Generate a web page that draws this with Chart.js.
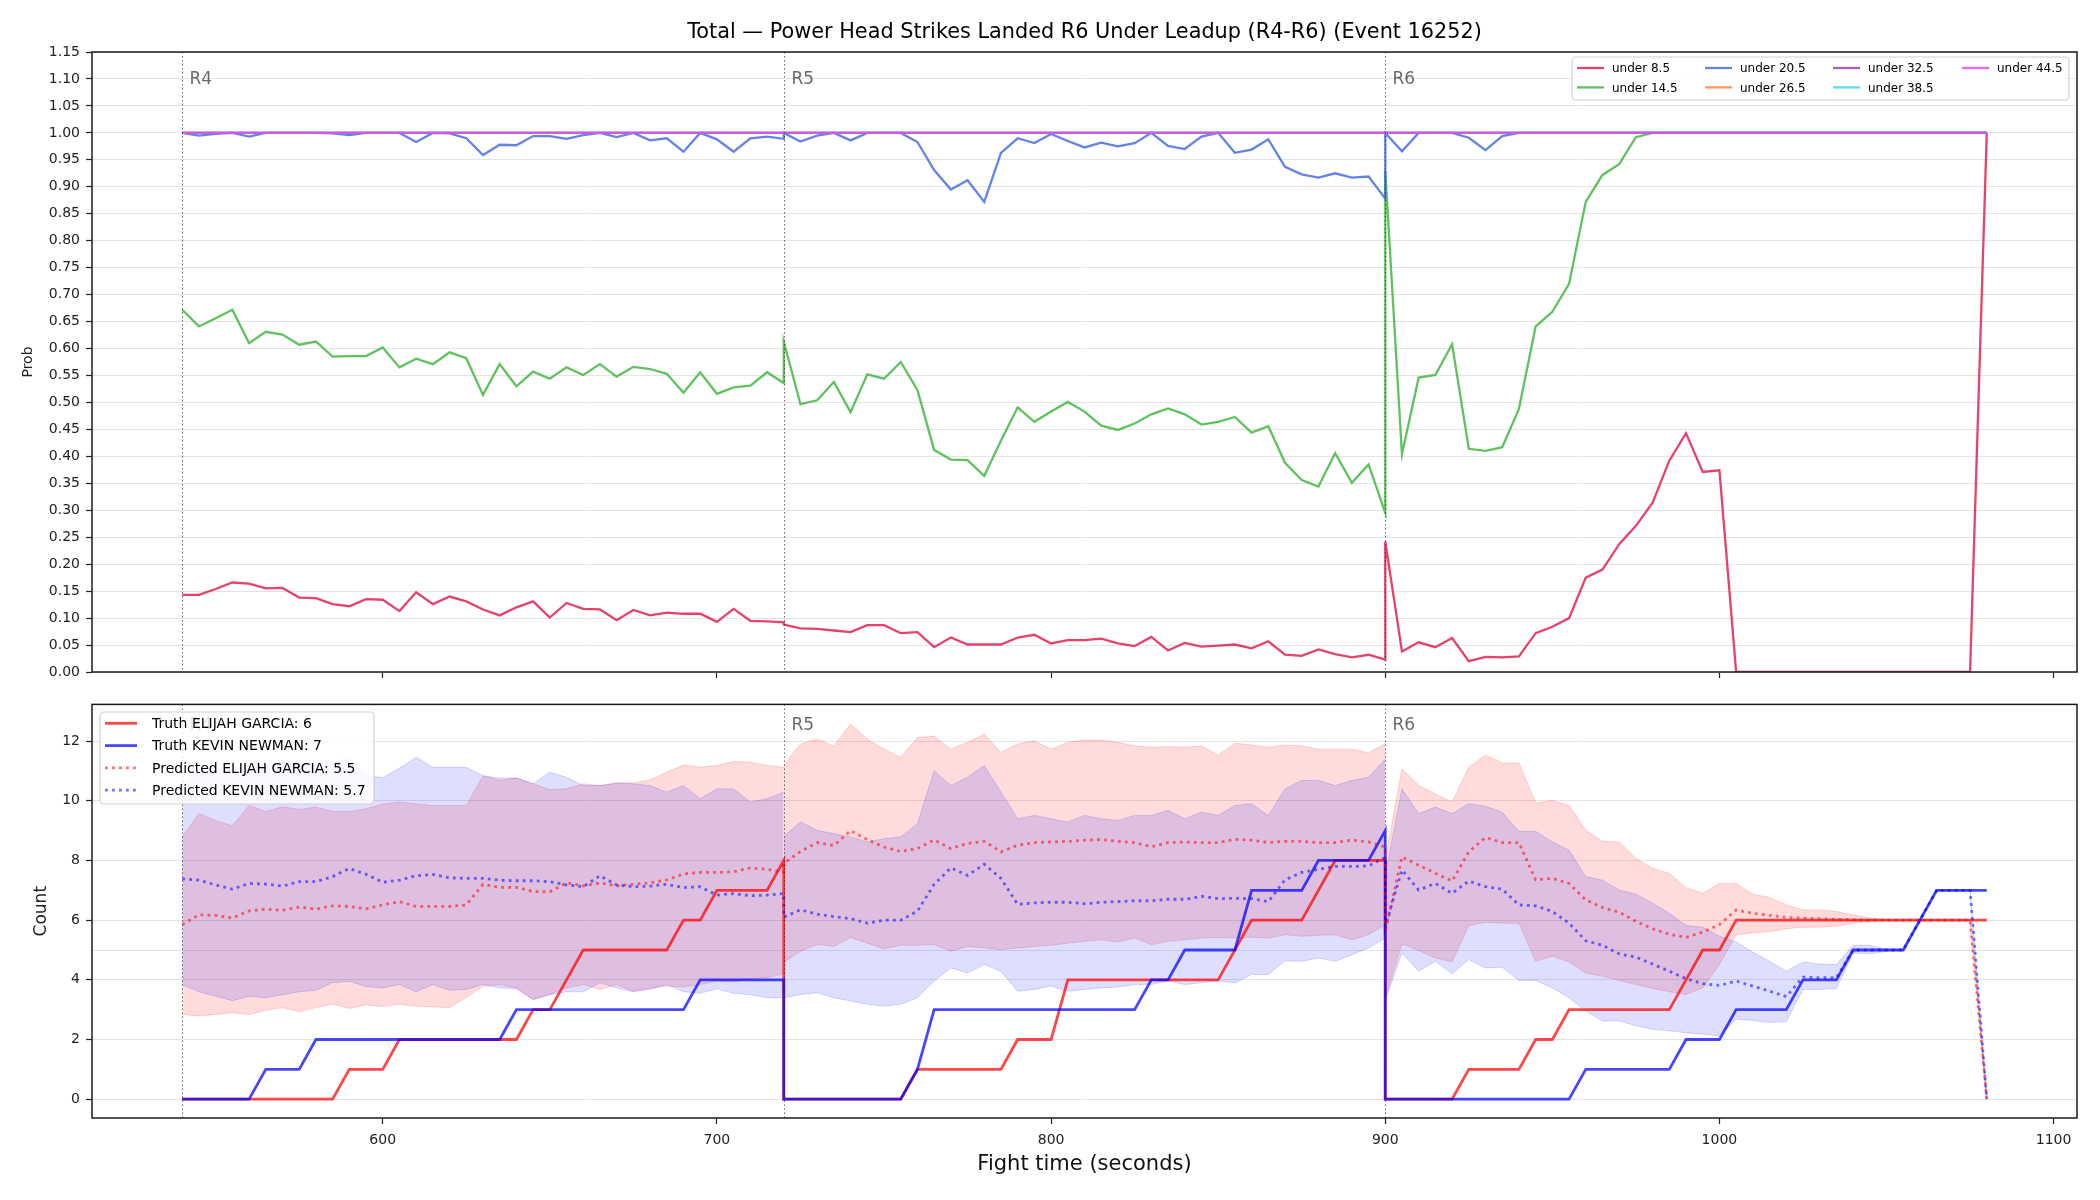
<!DOCTYPE html>
<html>
<head>
<meta charset="utf-8">
<script src="https://cdn.jsdelivr.net/npm/chart.js@4.4.1/dist/chart.umd.min.js"></script>
<style>
  html, body { margin: 0; padding: 0; background: #fff; }
  #wrap { position: relative; width: 2100px; height: 1200px; }
  canvas { position: absolute; left: 0; }
  #topChart { top: 0; }
  #bottomChart { top: 690px; }
</style>
</head>
<body>
<div id="wrap">
  <canvas id="topChart" width="2100" height="690"></canvas>
  <canvas id="bottomChart" width="2100" height="510"></canvas>
</div>
<script>
const TITLE = "Total — Power Head Strikes Landed R6 Under Leadup (R4-R6) (Event 16252)";

// fight time, one block per round (round edges appear twice)
const times = [
  540,545,550,555,560,565,570,575,580,585,590,595,600,605,610,615,620,625,630,635,640,645,650,655,660,665,670,675,680,685,690,695,700,705,710,715,720,
  720,725,730,735,740,745,750,755,760,765,770,775,780,785,790,795,800,805,810,815,820,825,830,835,840,845,850,855,860,865,870,875,880,885,890,895,900,
  900,905,910,915,920,925,930,935,940,945,950,955,960,965,970,975,980,985,990,995,1000,1005,1010,1015,1020,1025,1030,1035,1040,1045,1050,1055,1060,1065,1070,1075,1080
];
const roundNames = ["R4", "R5", "R6"];
const roundStarts = [540, 720, 900];
const xTicks = [600, 700, 800, 900, 1000, 1100];
const probTicks = [0,0.05,0.1,0.15,0.2,0.25,0.3,0.35,0.4,0.45,0.5,0.55,0.6,0.65,0.7,0.75,0.8,0.85,0.9,0.95,1,1.05,1.1,1.15];
const countTicks = [0, 2, 4, 6, 8, 10, 12];
const countRefLine = 5;

// top panel: probability of each "under" line
const lineNames = ["under 8.5", "under 14.5", "under 20.5", "under 26.5", "under 32.5", "under 38.5", "under 44.5"];
const under8_5 = [
  0.143,0.143,0.154,0.166,0.164,0.155,0.156,0.138,0.137,0.126,0.122,0.135,0.134,0.113,0.148,0.126,0.140,0.131,0.116,0.105,0.120,0.131,0.101,0.128,0.117,0.116,0.096,0.115,0.105,0.110,0.108,0.108,0.093,0.117,0.095,0.094,0.092,
  0.088,0.081,0.080,0.077,0.074,0.087,0.087,0.072,0.074,0.046,0.064,0.051,0.051,0.051,0.064,0.069,0.053,0.059,0.059,0.062,0.053,0.048,0.065,0.040,0.054,0.047,0.049,0.051,0.044,0.057,0.032,0.030,0.042,0.033,0.027,0.032,0.023,
  0.242,0.038,0.055,0.046,0.063,0.020,0.028,0.027,0.029,0.072,0.084,0.100,0.175,0.190,0.237,0.271,0.314,0.392,0.443,0.371,0.374,0,0,0,0,0,0,0,0,0,0,0,0,0,0,0,1
];
const under14_5 = [
  0.672,0.641,0.656,0.672,0.610,0.631,0.626,0.607,0.613,0.585,0.586,0.586,0.602,0.565,0.581,0.571,0.593,0.582,0.514,0.571,0.530,0.557,0.544,0.565,0.551,0.571,0.548,0.566,0.562,0.553,0.518,0.556,0.516,0.528,0.531,0.556,0.536,
  0.613,0.497,0.504,0.538,0.482,0.552,0.544,0.575,0.523,0.412,0.394,0.393,0.364,0.429,0.491,0.464,0.483,0.501,0.483,0.457,0.449,0.461,0.478,0.489,0.478,0.459,0.464,0.473,0.444,0.456,0.388,0.356,0.344,0.406,0.351,0.385,0.295,
  0.930,0.404,0.546,0.551,0.608,0.414,0.410,0.417,0.488,0.641,0.668,0.720,0.872,0.922,0.942,0.992,1,1,1,1,1,1,1,1,1,1,1,1,1,1,1,1,1,1,1,1,1
];
const under20_5 = [
  1,0.995,0.998,1,0.993,1,1,1,1,0.999,0.996,1,1,1,0.983,1,0.999,0.990,0.959,0.978,0.977,0.994,0.994,0.989,0.996,1,0.992,1,0.986,0.990,0.965,1,0.988,0.965,0.990,0.993,0.989,
  1,0.984,0.995,1,0.986,1,1,1,0.983,0.931,0.895,0.912,0.872,0.963,0.990,0.981,0.998,0.985,0.973,0.982,0.975,0.981,1,0.976,0.970,0.993,1,0.963,0.969,0.988,0.937,0.923,0.917,0.925,0.917,0.919,0.878,
  1,0.966,1,1,1,0.991,0.968,0.994,1,1,1,1,1,1,1,1,1,1,1,1,1,1,1,1,1,1,1,1,1,1,1,1,1,1,1,1,1
];
const under26_5 = [
  1,1,1,1,1,1,1,1,1,1,1,1,1,1,1,1,1,1,1,1,1,1,1,1,1,1,1,1,1,1,1,1,1,1,1,1,1,
  1,1,1,1,1,1,1,1,1,1,1,1,1,1,1,1,1,1,1,1,1,1,1,1,1,1,1,1,1,1,1,1,1,1,1,1,1,
  1,1,1,1,1,1,1,1,1,1,1,1,1,1,1,1,1,1,1,1,1,1,1,1,1,1,1,1,1,1,1,1,1,1,1,1,1
];
const under32_5 = [
  1,1,1,1,1,1,1,1,1,1,1,1,1,1,1,1,1,1,1,1,1,1,1,1,1,1,1,1,1,1,1,1,1,1,1,1,1,
  1,1,1,1,1,1,1,1,1,1,1,1,1,1,1,1,1,1,1,1,1,1,1,1,1,1,1,1,1,1,1,1,1,1,1,1,1,
  1,1,1,1,1,1,1,1,1,1,1,1,1,1,1,1,1,1,1,1,1,1,1,1,1,1,1,1,1,1,1,1,1,1,1,1,1
];
const under38_5 = [
  1,1,1,1,1,1,1,1,1,1,1,1,1,1,1,1,1,1,1,1,1,1,1,1,1,1,1,1,1,1,1,1,1,1,1,1,1,
  1,1,1,1,1,1,1,1,1,1,1,1,1,1,1,1,1,1,1,1,1,1,1,1,1,1,1,1,1,1,1,1,1,1,1,1,1,
  1,1,1,1,1,1,1,1,1,1,1,1,1,1,1,1,1,1,1,1,1,1,1,1,1,1,1,1,1,1,1,1,1,1,1,1,1
];
const under44_5 = [
  1,1,1,1,1,1,1,1,1,1,1,1,1,1,1,1,1,1,1,1,1,1,1,1,1,1,1,1,1,1,1,1,1,1,1,1,1,
  1,1,1,1,1,1,1,1,1,1,1,1,1,1,1,1,1,1,1,1,1,1,1,1,1,1,1,1,1,1,1,1,1,1,1,1,1,
  1,1,1,1,1,1,1,1,1,1,1,1,1,1,1,1,1,1,1,1,1,1,1,1,1,1,1,1,1,1,1,1,1,1,1,1,1
];
const lineColors = [
  "rgba(225,25,75,0.82)", "rgba(60,180,60,0.82)", "rgba(65,105,225,0.82)", "rgba(255,127,60,0.82)",
  "rgba(145,60,200,0.82)", "rgba(60,210,240,0.82)", "rgba(230,70,230,0.82)"
];

// bottom panel: cumulative counts
const fighterNames = ["ELIJAH GARCIA", "KEVIN NEWMAN"];
const truthTotals = [6, 7];
const predTotals = [5.5, 5.7];
const truthElijah = [
  0,0,0,0,0,0,0,0,0,0,1,1,1,2,2,2,2,2,2,2,2,3,3,4,5,5,5,5,5,5,6,6,7,7,7,7,8,
  0,0,0,0,0,0,0,0,1,1,1,1,1,1,2,2,2,4,4,4,4,4,4,4,4,4,4,5,6,6,6,6,7,8,8,8,8,
  0,0,0,0,0,1,1,1,1,2,2,3,3,3,3,3,3,3,4,5,5,6,6,6,6,6,6,6,6,6,6,6,6,6,6,6,6
];
const truthKevin = [
  0,0,0,0,0,1,1,1,2,2,2,2,2,2,2,2,2,2,2,2,3,3,3,3,3,3,3,3,3,3,3,4,4,4,4,4,4,
  0,0,0,0,0,0,0,0,1,3,3,3,3,3,3,3,3,3,3,3,3,3,4,4,5,5,5,5,7,7,7,7,8,8,8,8,9,
  0,0,0,0,0,0,0,0,0,0,0,0,1,1,1,1,1,1,2,2,2,3,3,3,3,4,4,4,5,5,5,5,6,7,7,7,7
];
const predElijah = [
  5.85,6.18,6.16,6.07,6.31,6.37,6.33,6.44,6.37,6.48,6.46,6.38,6.51,6.62,6.46,6.46,6.46,6.51,7.2,7.1,7.1,6.96,6.95,7.25,7.15,7.25,7.15,7.2,7.25,7.35,7.55,7.6,7.6,7.62,7.75,7.7,7.6,
  7.9,8.3,8.6,8.5,9.0,8.7,8.45,8.3,8.4,8.69,8.4,8.57,8.64,8.29,8.51,8.6,8.62,8.64,8.68,8.7,8.64,8.6,8.46,8.6,8.62,8.6,8.6,8.71,8.68,8.6,8.64,8.64,8.6,8.6,8.68,8.62,8.45,
  5.6,8.12,7.84,7.57,7.31,8.29,8.77,8.6,8.6,7.35,7.4,7.23,6.68,6.42,6.27,5.96,5.71,5.53,5.42,5.6,5.85,6.34,6.23,6.16,6.09,6.07,6.05,6.03,6.02,6.0,6.0,6.0,6.0,6.0,6.0,6.0,0
];
const predKevin = [
  7.38,7.34,7.18,7.04,7.23,7.21,7.14,7.29,7.29,7.46,7.73,7.54,7.27,7.34,7.49,7.53,7.42,7.4,7.4,7.34,7.32,7.32,7.29,7.18,7.12,7.49,7.18,7.12,7.14,7.2,7.09,7.12,6.84,6.89,6.82,6.84,6.89,
  6.1,6.35,6.2,6.12,6.05,5.9,6.0,6.0,6.3,7.2,7.75,7.5,7.87,7.4,6.53,6.58,6.6,6.6,6.55,6.6,6.62,6.65,6.65,6.7,6.7,6.8,6.72,6.73,6.72,6.62,7.35,7.6,7.7,7.8,7.8,7.82,8.1,
  5.8,7.68,7.01,7.23,6.9,7.31,7.12,7.04,6.51,6.48,6.29,5.9,5.31,5.16,4.87,4.76,4.53,4.29,4.04,3.87,3.81,3.96,3.79,3.62,3.44,4.09,4.07,4.07,5.0,5.0,5.0,5.0,6.0,7.0,7.0,7.0,0
];
const elijahHi = [
  8.79,9.57,9.34,9.16,9.84,9.64,9.8,9.71,9.79,9.64,9.64,9.73,9.89,9.96,9.9,9.84,9.84,9.84,10.84,10.68,10.77,10.57,10.37,10.4,10.57,10.5,10.6,10.6,10.7,10.96,11.2,11.12,11.18,11.32,11.29,11.18,11.12,
  11.2,11.9,12.07,11.84,12.57,12.07,11.73,11.46,12.12,12.16,11.73,11.96,12.23,11.62,11.9,12.01,11.73,11.96,12.04,12.03,11.96,11.84,11.79,11.82,11.79,11.84,11.53,11.93,11.87,11.79,11.87,11.84,11.73,11.73,11.73,11.6,11.93,
  8.0,11.07,10.51,10.23,9.96,11.12,11.53,11.27,11.27,9.93,10.01,9.84,9.01,8.64,8.62,8.07,7.73,7.57,7.09,6.9,7.23,7.23,6.87,6.76,6.51,6.34,6.34,6.29,6.18,6.07,6.01,6.0,6.0,6.0,6.0,6.0,0
];
const elijahLo = [
  2.84,2.79,2.84,2.9,2.84,2.98,3.07,2.93,3.07,3.18,3.04,3.16,3.11,3.18,3.12,3.09,3.07,3.4,3.79,3.84,3.73,3.34,3.51,3.73,3.84,3.68,3.84,3.62,3.73,3.79,3.76,3.84,3.96,3.93,4.04,4.07,4.2,
  4.57,4.96,5.18,5.12,5.42,5.23,5.04,5.16,5.16,5.18,4.96,5.12,5.07,5.01,5.07,5.12,5.16,5.23,5.29,5.34,5.27,5.4,5.18,5.29,5.34,5.4,5.42,5.4,5.43,5.4,5.51,5.46,5.49,5.51,5.34,5.51,5.84,
  3.4,5.2,4.98,4.73,4.6,5.82,5.93,5.9,5.9,4.62,4.79,4.6,4.23,4.12,3.98,3.84,3.71,3.6,3.51,3.73,4.51,5.51,5.57,5.62,5.71,5.76,5.76,5.8,5.9,5.96,6.0,6.0,6.0,6.0,6.0,6.0,0
];
const kevinHi = [
  10.6,11.0,11.1,11.0,11.23,11.2,11.29,11.34,11.23,11.23,11.46,10.84,10.78,11.09,11.46,11.12,11.12,11.12,10.84,10.76,10.76,10.57,10.96,10.79,10.51,10.51,10.6,10.57,10.51,10.29,10.51,10.07,10.4,10.4,9.96,10.07,10.29,
  8.8,9.29,9.01,8.9,8.79,8.62,8.73,8.79,9.23,11.01,10.51,10.79,11.18,10.29,9.4,9.51,9.4,9.29,9.51,9.4,9.34,9.51,9.51,9.68,9.4,9.62,9.51,9.84,9.9,9.51,10.4,10.68,10.68,10.51,10.68,10.79,11.4,
  7.5,10.4,9.57,9.79,9.57,9.9,9.82,9.62,8.98,8.98,8.62,8.34,7.46,7.34,7.01,6.87,6.57,6.23,5.82,5.76,5.46,5.27,4.93,4.62,4.29,4.6,4.53,4.51,5.16,5.16,5.01,5.0,6.0,7.0,7.0,7.0,0
];
const kevinLo = [
  3.84,3.6,3.45,3.3,3.45,3.4,3.5,3.6,3.65,3.9,3.95,3.78,3.73,3.84,3.6,3.84,3.65,3.68,3.84,3.73,3.7,3.34,3.5,3.6,3.6,3.9,3.73,3.6,3.68,3.84,3.6,3.55,3.7,3.55,3.5,3.4,3.4,
  3.4,3.51,3.57,3.4,3.29,3.18,3.12,3.18,3.4,3.96,4.4,4.23,4.51,4.29,3.62,3.68,3.79,3.62,3.68,3.73,3.76,3.84,3.84,3.96,3.84,3.9,3.96,3.9,4.18,4.18,4.64,4.62,4.73,4.62,4.84,5.07,5.4,
  3.3,4.9,4.29,4.62,4.2,4.68,4.4,4.42,3.98,3.98,3.73,3.4,2.96,2.62,2.62,2.46,2.34,2.29,2.23,2.18,2.12,2.68,2.64,2.57,2.6,3.68,3.68,3.71,4.9,4.87,4.96,5.0,6.0,7.0,7.0,7.0,0
];

Chart.defaults.font.family = "'DejaVu Sans', 'Liberation Sans', sans-serif";
Chart.defaults.color = "#222";

const pts = ys => times.map((t, i) => ({ x: t, y: ys[i] }));
const roundSlices = [[0, 37], [37, 74], [74, 111]];
const fixTicks = list => axis => { axis.ticks = list.map(v => ({ value: v })); };

// title centred over the axes
const titlePlugin = {
  id: "axTitle",
  afterDraw(chart, args, opts) {
    const { ctx, chartArea: a } = chart;
    ctx.save();
    ctx.font = "20.8px 'DejaVu Sans'";
    ctx.fillStyle = "#000";
    ctx.textAlign = "center";
    ctx.textBaseline = "middle";
    ctx.fillText(opts.text, (a.left + a.right) / 2, opts.y);
    ctx.restore();
  }
};

// dotted round markers with R labels, plus the axes frame
const roundPlugin = {
  id: "rounds",
  afterDatasetsDraw(chart, args, opts) {
    const { ctx, chartArea: a, scales: { x } } = chart;
    ctx.save();
    roundStarts.forEach((t, i) => {
      const px = Math.round(x.getPixelForValue(t)) + 0.5;
      ctx.strokeStyle = "rgba(40,40,40,0.7)";
      ctx.lineWidth = 1;
      ctx.setLineDash([1.5, 2.5]);
      ctx.beginPath();
      ctx.moveTo(px, a.top);
      ctx.lineTo(px, a.bottom);
      ctx.stroke();
      ctx.setLineDash([]);
      ctx.fillStyle = "rgba(0,0,0,0.6)";
      ctx.font = "17px 'DejaVu Sans'";
      ctx.textBaseline = "alphabetic";
      ctx.textAlign = "left";
      ctx.fillText(roundNames[i], px + 7, a.top + opts.labelDy);
    });
    ctx.strokeStyle = "#1a1a1a";
    ctx.lineWidth = 1.5;
    ctx.strokeRect(a.left, a.top, a.right - a.left, a.bottom - a.top);
    ctx.restore();
  }
};

// matplotlib-like boxed legend
const boxLegend = {
  id: "boxLegend",
  afterDraw(chart, args, opts) {
    const { ctx } = chart;
    const b = opts.box;
    ctx.save();
    ctx.beginPath();
    const r = 4;
    ctx.moveTo(b.x + r, b.y);
    ctx.arcTo(b.x + b.w, b.y, b.x + b.w, b.y + b.h, r);
    ctx.arcTo(b.x + b.w, b.y + b.h, b.x, b.y + b.h, r);
    ctx.arcTo(b.x, b.y + b.h, b.x, b.y, r);
    ctx.arcTo(b.x, b.y, b.x + b.w, b.y, r);
    ctx.closePath();
    ctx.fillStyle = "rgba(255,255,255,0.8)";
    ctx.fill();
    ctx.strokeStyle = "#d0d0d0";
    ctx.lineWidth = 1.2;
    ctx.stroke();
    ctx.font = opts.font;
    ctx.textBaseline = "middle";
    ctx.textAlign = "left";
    opts.items.forEach(it => {
      const x0 = b.x + opts.colX[it.col];
      const y0 = b.y + opts.rowY0 + it.row * opts.rowH;
      ctx.strokeStyle = it.color;
      ctx.lineWidth = it.width;
      ctx.setLineDash(it.dash || []);
      ctx.beginPath();
      ctx.moveTo(x0, y0);
      ctx.lineTo(x0 + opts.handle, y0);
      ctx.stroke();
      ctx.setLineDash([]);
      ctx.fillStyle = "#000";
      ctx.fillText(it.label, x0 + opts.textGap, y0 + 1);
    });
    ctx.restore();
  }
};

const probSeries = [under8_5, under14_5, under20_5, under26_5, under32_5, under38_5, under44_5];

new Chart(document.getElementById("topChart"), {
  type: "line",
  data: {
    datasets: probSeries.map((ys, i) => ({
      label: lineNames[i],
      data: pts(ys),
      borderColor: lineColors[i],
      borderWidth: 2.3,
      pointRadius: 0,
      tension: 0,
      fill: false,
      order: probSeries.length - i
    }))
  },
  options: {
    responsive: false,
    animation: false,
    devicePixelRatio: 1,
    layout: { padding: { left: 0, right: 23, top: 52, bottom: 0 } },
    plugins: {
      legend: { display: false },
      tooltip: { enabled: false },
      title: { display: false },
      axTitle: { text: TITLE, y: 33 },
      rounds: { labelDy: 32 },
      boxLegend: {
        box: { x: 1572, y: 57, w: 497, h: 43 },
        font: "12px 'DejaVu Sans'",
        colX: [5, 133, 261, 390], rowY0: 11, rowH: 19.4,
        handle: 27, textGap: 35,
        items: lineNames.map((n, i) => ({
          label: n, color: lineColors[i], width: 2.3, col: Math.floor(i / 2), row: i % 2
        }))
      }
    },
    scales: {
      x: {
        type: "linear", min: 513, max: 1107,
        afterBuildTicks: fixTicks(xTicks),
        afterFit: ax => { ax.height = 18; },
        ticks: { display: false },
        grid: { drawOnChartArea: false, tickLength: 6, tickColor: "#222", tickWidth: 1.2 },
        border: { display: false }
      },
      y: {
        type: "linear", min: 0, max: 1.15,
        afterBuildTicks: fixTicks(probTicks),
        afterFit: ax => { ax.width = 92; },
        ticks: { callback: v => v.toFixed(2), font: { size: 14 }, color: "#222", padding: 6 },
        grid: { color: "#e4e4e4", lineWidth: 1, tickLength: 6, tickColor: "#222", tickWidth: 1.2 },
        border: { display: false },
        title: { display: true, text: "Prob", font: { size: 14 }, color: "#222", padding: { top: 20 } }
      }
    }
  },
  plugins: [roundPlugin, boxLegend, titlePlugin]
});

// bottom panel datasets
const bandDefs = [
  { lo: elijahLo, hi: elijahHi, fill: "rgba(255,0,0,0.14)", edge: "rgba(255,0,0,0.16)", order: 21 },
  { lo: kevinLo, hi: kevinHi, fill: "rgba(0,0,255,0.13)", edge: "rgba(0,0,255,0.15)", order: 20 }
];
const bottomSets = [];
bandDefs.forEach(d => {
  roundSlices.forEach(([s, e]) => {
    bottomSets.push({ data: pts(d.lo).slice(s, e), borderColor: d.edge, borderWidth: 1, pointRadius: 0, tension: 0, fill: false, order: d.order });
    bottomSets.push({ data: pts(d.hi).slice(s, e), borderColor: d.edge, borderWidth: 1, pointRadius: 0, tension: 0, fill: "-1", backgroundColor: d.fill, order: d.order });
  });
});
const truthRed = "rgba(255,0,0,0.72)";
const truthBlue = "rgba(0,0,255,0.72)";
const predRed = "rgba(255,0,0,0.55)";
const predBlue = "rgba(0,0,255,0.55)";
const dots = [2.8, 4.2];
bottomSets.push({ data: pts(truthElijah), borderColor: truthRed, borderWidth: 2.8, pointRadius: 0, tension: 0, fill: false, order: 5 });
bottomSets.push({ data: pts(truthKevin), borderColor: truthBlue, borderWidth: 2.8, pointRadius: 0, tension: 0, fill: false, order: 4 });
bottomSets.push({ data: pts(predElijah), borderColor: predRed, borderWidth: 2.8, borderDash: dots, pointRadius: 0, tension: 0, fill: false, order: 3 });
bottomSets.push({ data: pts(predKevin), borderColor: predBlue, borderWidth: 2.8, borderDash: dots, pointRadius: 0, tension: 0, fill: false, order: 2 });

const refLinePlugin = {
  id: "refLine",
  beforeDatasetsDraw(chart) {
    const { ctx, chartArea: a, scales: { y } } = chart;
    const py = Math.round(y.getPixelForValue(countRefLine)) + 0.5;
    ctx.save();
    ctx.strokeStyle = "#e4e4e4";
    ctx.lineWidth = 1;
    ctx.beginPath();
    ctx.moveTo(a.left, py);
    ctx.lineTo(a.right, py);
    ctx.stroke();
    ctx.restore();
  }
};

new Chart(document.getElementById("bottomChart"), {
  type: "line",
  data: { datasets: bottomSets },
  options: {
    responsive: false,
    animation: false,
    devicePixelRatio: 1,
    layout: { padding: { left: 0, right: 23, top: 14, bottom: 0 } },
    plugins: {
      legend: { display: false },
      tooltip: { enabled: false },
      title: { display: false },
      rounds: { labelDy: 26 },
      boxLegend: {
        box: { x: 100, y: 22, w: 274, h: 92 },
        font: "14px 'DejaVu Sans'",
        colX: [5], rowY0: 11.3, rowH: 22.3,
        handle: 32, textGap: 47,
        items: [
          { label: "Truth " + fighterNames[0] + ": " + truthTotals[0], color: truthRed, width: 2.8, col: 0, row: 0 },
          { label: "Truth " + fighterNames[1] + ": " + truthTotals[1], color: truthBlue, width: 2.8, col: 0, row: 1 },
          { label: "Predicted " + fighterNames[0] + ": " + predTotals[0], color: predRed, width: 2.8, dash: dots, col: 0, row: 2 },
          { label: "Predicted " + fighterNames[1] + ": " + predTotals[1], color: predBlue, width: 2.8, dash: dots, col: 0, row: 3 }
        ]
      }
    },
    scales: {
      x: {
        type: "linear", min: 513, max: 1107,
        afterBuildTicks: fixTicks(xTicks),
        afterFit: ax => { ax.height = 82; },
        ticks: { callback: v => String(v), font: { size: 14 }, color: "#222", padding: 8, maxRotation: 0 },
        grid: { drawOnChartArea: false, tickLength: 6, tickColor: "#222", tickWidth: 1.2 },
        border: { display: false },
        title: { display: true, text: "Fight time (seconds)", font: { size: 21 }, color: "#111", padding: { bottom: 23 } }
      },
      y: {
        type: "linear", min: -0.63, max: 13.23,
        afterBuildTicks: fixTicks(countTicks),
        afterFit: ax => { ax.width = 92; },
        ticks: { font: { size: 14 }, color: "#222", padding: 6 },
        grid: { color: "#e4e4e4", lineWidth: 1, tickLength: 6, tickColor: "#222", tickWidth: 1.2 },
        border: { display: false },
        title: { display: true, text: "Count", font: { size: 17 }, color: "#222", padding: { top: 31 } }
      }
    }
  },
  plugins: [refLinePlugin, roundPlugin, boxLegend]
});
</script>
</body>
</html>
